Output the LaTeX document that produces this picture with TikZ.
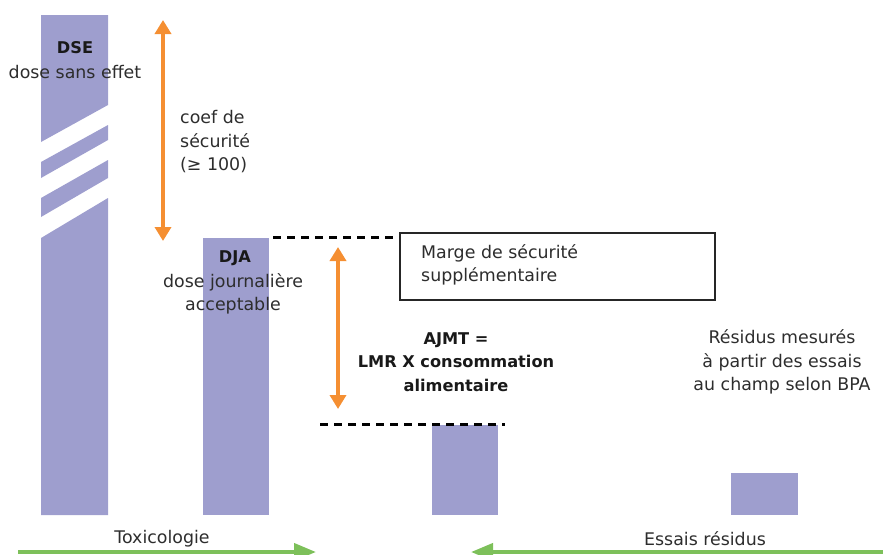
\documentclass[tikz,border=0pt]{standalone}
\usepackage{fontspec}
\setmainfont{DejaVu Sans}
\usetikzlibrary{arrows.meta}
\definecolor{barc}{RGB}{158,158,206}
\definecolor{orangec}{RGB}{245,143,50}
\definecolor{greenc}{RGB}{125,192,90}
\definecolor{textc}{RGB}{45,45,45}
\begin{document}
\begin{tikzpicture}[x=1pt,y=-1pt,
  txt/.style={font=\fontsize{17.4}{23.5}\selectfont, text=textc, inner sep=0pt, align=center},
  txtl/.style={txt, align=left},
  bartxt/.style={font=\fontsize{16.2}{23.5}\selectfont\bfseries, text=black!90, inner sep=0pt, align=center},
  barfill/.style={fill=barc, draw=none},
  oarrow/.style={draw=orangec, line width=4pt, {Triangle[width=16pt,length=14pt]}-{Triangle[width=16pt,length=14pt]}},
  garrow/.style={draw=greenc, line width=4pt, -{Triangle[width=17pt,length=22pt]}},
  dline/.style={draw=black, line width=3pt, dash pattern=on 8pt off 6pt},
  boxst/.style={draw=black!85, line width=1.5pt, fill=white}
]
\useasboundingbox (0,0) rectangle (883,554);
% bar 1 with break stripes
\fill[barfill] (41,15) -- (108,15) -- (108,105) -- (41,142) -- cycle;
\fill[barfill] (41,162) -- (108,125) -- (108,140) -- (41,178) -- cycle;
\fill[barfill] (41,198) -- (108,160) -- (108,178) -- (41,217) -- cycle;
\fill[barfill] (41,238) -- (108,198) -- (108,515) -- (41,515) -- cycle;
% other bars
\fill[barfill] (203,238) rectangle (269,515);
\fill[barfill] (432,425) rectangle (498,515);
\fill[barfill] (731,473) rectangle (798,515);
% box
\node[boxst, minimum width=315pt, minimum height=67pt, anchor=north west, inner sep=0pt] (box) at (399,232) {};
\node[txtl, anchor=west] (marge) at (421,265) {Marge de sécurité\\supplémentaire};
% dashed lines
\coordinate (d1a) at (273,237);
\draw[dline] (d1a) -- (box.west |- d1a);
\coordinate (d2a) at (320,424);
\coordinate (d2b) at (505,424);
\draw[dline] (d2a) -- (d2b);
% orange arrows
\coordinate (o1t) at (163,20);
\coordinate (o1b) at (163,241);
\draw[oarrow] (o1t) -- (o1b);
\coordinate (o2t) at (338,247);
\coordinate (o2b) at (338,409);
\draw[oarrow] (o2t) -- (o2b);
% green arrows
\coordinate (g1s) at (18,552);
\coordinate (g1e) at (316,552);
\draw[garrow] (g1s) -- (g1e);
\coordinate (g2s) at (890,552);
\coordinate (g2e) at (471,552);
\draw[garrow] (g2s) -- (g2e);
% texts
\node[bartxt] (dse) at (75,48) {DSE};
\node[txt] (dsel) at (75,72) {dose sans effet};
\node[txtl, anchor=west] (coef) at (180,142) {coef de\\sécurité\\(≥ 100)};
\node[bartxt] (dja) at (235,258) {DJA};
\node[txt] (djal) at (233,294) {dose journalière\\acceptable};
\node[bartxt] (ajmt) at (456,362) {AJMT =\\LMR X consommation\\alimentaire};
\node[txt] (res) at (782,362) {Résidus mesurés\\à partir des essais\\au champ selon BPA};
\node[txt] (tox) at (162,539) {Toxicologie};
\node[txt] (ess) at (705,539) {Essais résidus};
\end{tikzpicture}
\end{document}
